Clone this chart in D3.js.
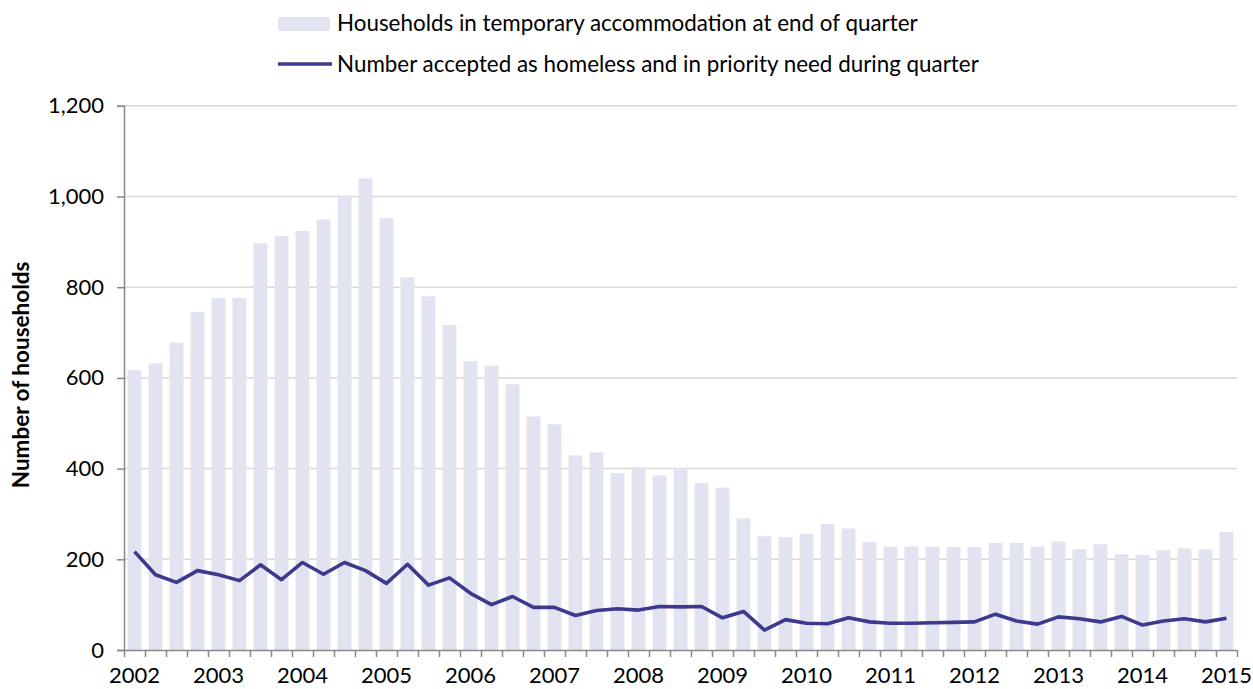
<!DOCTYPE html>
<html>
<head>
<meta charset="utf-8">
<script src="https://cdn.jsdelivr.net/npm/d3@7"></script>
<style>
  html, body { margin: 0; padding: 0; background: #fff; }
  svg { display: block; font-family: Lato, "Open Sans", sans-serif; }
</style>
</head>
<body>
<svg id="chart" width="1253" height="689"></svg>
<script>
// Year labels shown on the x axis (series runs 2002 Q1 to 2015 Q1)
const years = [2002, 2003, 2004, 2005, 2006, 2007, 2008, 2009, 2010, 2011, 2012, 2013, 2014, 2015];

// Households in temporary accommodation at end of quarter
const tempAccommodation = [
  617, 632, 678, 745, 776, 776, 897, 913, 924, 949, 1002, 1040, 953, 822,
  780, 717, 637, 627, 586, 515, 498, 429, 436, 390, 403, 385, 402, 368,
  358, 290, 251, 249, 256, 278, 268, 238, 228, 228, 228, 227, 227, 236,
  236, 228, 239, 222, 233, 211, 210, 220, 224, 222, 260
];

// Number accepted as homeless and in priority need during quarter
const acceptances = [
  217, 166, 149, 175, 166, 153, 188, 155, 193, 167, 193, 175, 147, 189,
  143, 159, 125, 100, 118, 94, 94, 76, 87, 91, 88, 96, 95, 96,
  71, 85, 44, 67, 59, 58, 71, 62, 59, 59, 60, 61, 62, 79,
  64, 57, 73, 69, 62, 74, 55, 64, 69, 62, 70
];

const yTicks = [0, 200, 400, 600, 800, 1000, 1200];

const seriesNames = [
  "Households in temporary accommodation at end of quarter",
  "Number accepted as homeless and in priority need during quarter"
];

// Quarter categories
const quarters = years.flatMap(y => [1, 2, 3, 4].map(q => `${y} Q${q}`)).slice(0, tempAccommodation.length);

const svg = d3.select("#chart");
const plotLeft = 124, plotRight = 1237, plotTop = 105.8, plotBottom = 650;

const x = d3.scaleBand().domain(quarters).range([plotLeft, plotRight]).paddingInner(0.34).paddingOuter(0.17);
const xEdge = d3.scaleLinear().domain([0, quarters.length]).range([plotLeft, plotRight]);
const y = d3.scaleLinear().domain([0, 1200]).range([plotBottom, plotTop]);

const barColor = "#e1e3f1";
const lineColor = "#3d3a8d";
const axisColor = "#898989";
const gridColor = "#d9d9d9";

// Gridlines
svg.append("g")
  .selectAll("line")
  .data(yTicks.filter(d => d > 0))
  .join("line")
  .attr("x1", plotLeft).attr("x2", plotRight)
  .attr("y1", d => y(d)).attr("y2", d => y(d))
  .attr("stroke", gridColor).attr("stroke-width", 1.5);

// Bars
svg.append("g")
  .selectAll("rect")
  .data(tempAccommodation)
  .join("rect")
  .attr("x", (d, i) => x(quarters[i]))
  .attr("width", x.bandwidth())
  .attr("y", d => y(d))
  .attr("height", d => y(0) - y(d))
  .attr("fill", barColor);

// Line
const line = d3.line()
  .x((d, i) => x(quarters[i]) + x.bandwidth() / 2)
  .y(d => y(d));

svg.append("path")
  .datum(acceptances)
  .attr("d", line)
  .attr("fill", "none")
  .attr("stroke", lineColor)
  .attr("stroke-width", 3.6)
  .attr("stroke-linejoin", "round");

// Y axis
const yAxis = svg.append("g")
  .attr("transform", `translate(${plotLeft},0)`)
  .call(d3.axisLeft(y).tickValues(yTicks).tickFormat(d3.format(",")).tickSize(7).tickPadding(13));
yAxis.select(".domain").attr("stroke", axisColor).attr("stroke-width", 1.5);
yAxis.selectAll(".tick line").attr("stroke", axisColor).attr("stroke-width", 1.5);
yAxis.selectAll(".tick text")
  .attr("font-size", 22).attr("fill", "#000")
  .attr("font-family", "Lato, sans-serif");

// X axis: tick marks at quarter boundaries
const xTicks = svg.append("g")
  .attr("transform", `translate(0,${plotBottom})`)
  .call(d3.axisBottom(xEdge).tickValues(d3.range(0, quarters.length + 1)).tickFormat("").tickSize(7).tickSizeOuter(0));
xTicks.select(".domain").attr("stroke", axisColor).attr("stroke-width", 1.5);
xTicks.selectAll(".tick line").attr("stroke", axisColor).attr("stroke-width", 1.5);

// X axis: year labels centred on each first quarter
const yearQuarters = quarters.filter(q => q.endsWith("Q1"));
const xLabels = svg.append("g")
  .attr("transform", `translate(0,${plotBottom})`)
  .call(d3.axisBottom(x).tickValues(yearQuarters).tickFormat(q => q.slice(0, 4)).tickSize(0).tickPadding(17));
xLabels.select(".domain").remove();
xLabels.selectAll(".tick text")
  .attr("font-size", 22).attr("fill", "#000")
  .attr("font-family", "Lato, sans-serif");

// Y axis title
svg.append("text")
  .attr("transform", `translate(29,${(plotTop + plotBottom) / 2 - 3}) rotate(-90)`)
  .attr("text-anchor", "middle")
  .attr("font-size", 22.5)
  .attr("font-weight", "bold")
  .attr("fill", "#000")
  .text("Number of households");

// Legend
const legend = svg.append("g");
legend.append("rect")
  .attr("x", 278).attr("y", 17).attr("width", 52).attr("height", 14)
  .attr("fill", barColor);
legend.append("text")
  .attr("x", 337).attr("y", 23).attr("dy", "0.35em")
  .attr("font-size", 22.4).attr("fill", "#000")
  .text(seriesNames[0]);
legend.append("line")
  .attr("x1", 278).attr("x2", 332).attr("y1", 64).attr("y2", 64)
  .attr("stroke", lineColor).attr("stroke-width", 3.6);
legend.append("text")
  .attr("x", 337).attr("y", 64).attr("dy", "0.35em")
  .attr("font-size", 22.4).attr("fill", "#000")
  .text(seriesNames[1]);
</script>
</body>
</html>
